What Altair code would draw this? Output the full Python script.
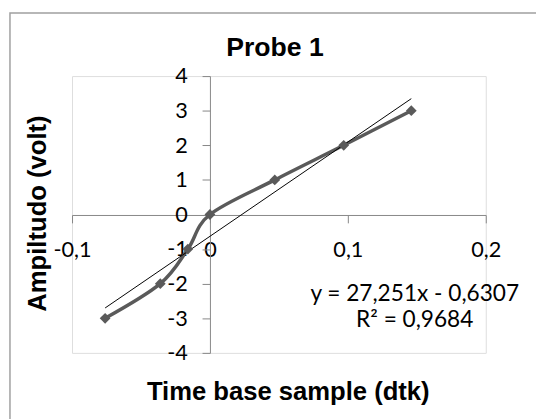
import altair as alt
import pandas as pd

# Data
sample_x = [-0.076, -0.036, -0.016, 0.0, 0.047, 0.097, 0.146]
amplitude = [-3, -2, -1, 0, 1, 2, 3]
slope = 27.251
intercept = -0.6307
eq_lines = ["y = 27,251x - 0,6307", "R² = 0,9684"]
eq_x = [0.1485, 0.1485]
eq_y = [-2.31, -3.06]
x_ticks = [-0.1, 0.0, 0.1, 0.2]
y_ticks = [-4, -3, -2, -1, 0, 1, 2, 3, 4]

df = pd.DataFrame({"x": sample_x, "y": amplitude})
tx = [min(sample_x), max(sample_x)]
trend = pd.DataFrame({"x": tx, "y": [slope * v + intercept for v in tx]})
eq = pd.DataFrame({"t": eq_lines, "x": eq_x, "y": eq_y})

GREY = "#868686"
LINE = "#5a5a5a"
W, H = 420, 281

xscale = alt.Scale(domain=[-0.1, 0.2], nice=False, zero=False)
yscale = alt.Scale(domain=[-4, 4], nice=False, zero=False)

xaxis = alt.Axis(
    values=x_ticks, tickCount=10, grid=False, offset=-140, domainColor=GREY, tickColor=GREY,
    tickSize=8, labelPadding=27, labelBaseline="middle", labelFlush=False,
    labelOverlap=False,
    labelExpr="replace(toString(datum.value), '.', ',')",
    labelFont="Lato", labelFontSize=22, labelColor="#000000",
    title="Time base sample (dtk)", titleFont="Liberation Sans", titleFontSize=26,
    titleFontWeight="bold", titleColor="#000000", titleX=219, titleY=179,
    titleBaseline="middle", titleAlign="center",
)
yaxis = alt.Axis(
    values=y_ticks, tickCount=12, grid=False, offset=-140, domainColor=GREY, tickColor=GREY,
    tickSize=8, labelPadding=15, labelFlush=False, labelOverlap=False,
    labelExpr="replace(toString(datum.value), '.', ',')",
    labelFont="Lato", labelFontSize=22, labelColor="#000000",
    title="Ampiltudo (volt)", titleFont="Liberation Sans", titleFontSize=26,
    titleFontWeight="bold", titleColor="#000000", titleX=-175, titleY=139,
    titleBaseline="middle", titleAlign="center", titleAngle=-90,
)

frame = alt.Chart(pd.DataFrame({"a": [0]})).mark_rect(
    fill="transparent", stroke="#a0a0a0", strokeWidth=1.5
).encode(x=alt.value(-63), x2=alt.value(700), y=alt.value(-64), y2=alt.value(700))

base = alt.Chart(df)
line = base.mark_line(interpolate="cardinal", tension=0, color=LINE, strokeWidth=3.5).encode(
    x=alt.X("x:Q", scale=xscale, axis=xaxis),
    y=alt.Y("y:Q", scale=yscale, axis=yaxis),
)
pts = base.mark_point(shape="diamond", filled=True, size=120, color=LINE, opacity=1).encode(
    x="x:Q", y="y:Q"
)
trl = alt.Chart(trend).mark_line(color="#000000", strokeWidth=1).encode(x="x:Q", y="y:Q")
txt = alt.Chart(eq).mark_text(font="Lato", fontSize=23, color="#000000", align="center",
                              baseline="middle").encode(x="x:Q", y="y:Q", text="t:N")

chart = alt.layer(frame, line, trl, pts, txt).properties(
    width=W, height=H,
    title=alt.TitleParams("Probe 1", font="Liberation Sans", fontSize=27, fontWeight="bold",
                          color="#000000", anchor="middle", dx=-4, dy=77, offset=0,
                          baseline="bottom", frame="group"),
    autosize=alt.AutoSizeParams(type="none"),
    padding={"left": 65, "top": 66, "right": 51, "bottom": 64},
).configure_view(stroke=None).configure(background="white")

chart.save("out.html", embed_options={"renderer": "svg", "actions": False})
